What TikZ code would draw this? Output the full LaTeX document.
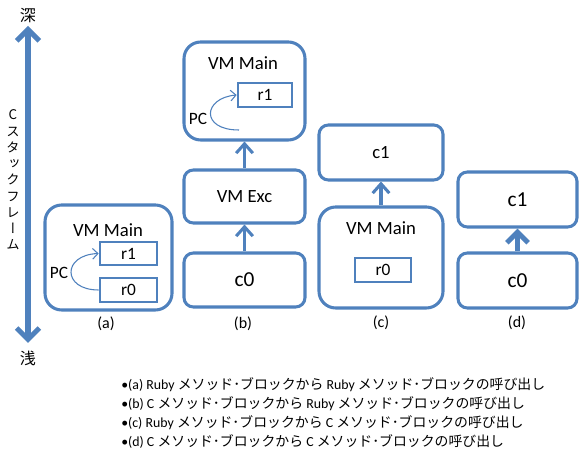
\documentclass[tikz,border=0pt]{standalone}
\usepackage{fontspec}
\setmainfont{Carlito}
\newfontfamily\cjk{Noto Sans CJK JP}
\newfontfamily\cjkvert[RawFeature=+vert]{Noto Sans CJK JP}
\usetikzlibrary{arrows.meta}
\definecolor{frameblue}{HTML}{4F81BD}
\newcommand{\jp}[1]{{\cjk #1}}

\tikzset{
  size/.style 2 args={minimum width=#1*0.75pt, minimum height=#2*0.75pt},
  frame/.style={draw=frameblue, line width=2.3pt, fill=white, inner sep=0pt},
  bigframe/.style={frame, rounded corners=12.5pt},
  smallframe/.style={frame, rounded corners=7pt},
  regbox/.style={draw=frameblue, line width=2pt, fill=white, inner sep=0pt,
    font=\fontsize{13}{15}\selectfont},
  conn/.style={draw=frameblue, line width=2.3pt,
    -{Straight Barb[length=7pt,width=12.5pt]}},
  thickconn/.style={draw=frameblue, line width=3.8pt,
    -{Straight Barb[length=8pt,width=16pt]}},
  depth/.style={draw=frameblue, line width=3.8pt,
    {Straight Barb[length=8.5pt,width=17pt]}-{Straight Barb[length=8.5pt,width=17pt]}},
  pcarrow/.style={draw=frameblue, line width=0.8pt,
    -{Straight Barb[length=4pt,width=8pt]}},
  t14/.style={font=\fontsize{14}{16}\selectfont},
  t16/.style={font=\fontsize{16}{18}\selectfont},
  t13/.style={font=\fontsize{13}{15}\selectfont},
  t12/.style={font=\fontsize{12}{14}\selectfont},
  note/.style={anchor=west, inner sep=0pt, font=\fontsize{10.4}{12}\selectfont},
}

\begin{document}
\begin{tikzpicture}[x=0.75pt, y=-0.75pt]
\useasboundingbox (0,0) rectangle (579,452);

% depth axis of the C stack
\coordinate (deep) at (28,26);
\coordinate (shallow) at (28,343);
\draw[depth] (deep) -- (shallow);
\node[font=\cjk\fontsize{12}{14}\selectfont] (deeplbl) at (28,16) {深};
\node[font=\cjk\fontsize{12}{14}\selectfont] (shallowlbl) at (28,358) {浅};
\node[font=\cjkvert\fontsize{10}{12.2}\selectfont, align=center, inner sep=0pt]
  (axislbl) at (13,180) {C\\ス\\タ\\ッ\\ク\\フ\\レ\\ー\\ム};

% (a) Ruby -> Ruby
\node[bigframe, size={127}{105}] (amain) at (108.5,257.5) {};
\node[t14] (amaint) at (108,230) {VM Main};
\node[regbox, size={57}{23}] (ar1) at (128.5,253.5) {r1};
\node[regbox, size={57}{24}] (ar0) at (128.5,290) {r0};
\node[t13] (apc) at (59,273) {PC};
\draw[pcarrow] (ar0.west) .. controls (62,290) and (62,255) .. (ar1.west);
\node[t12] (alab) at (106,324) {(a)};

% (b) C -> Ruby
\node[bigframe, size={121}{98}] (bmain) at (244.5,91) {};
\node[t14] (bmaint) at (243,63) {VM Main};
\node[regbox, size={54}{24}] (br1) at (265,95) {r1};
\node[t13] (bpc) at (198,119) {PC};
\coordinate (bpcstart) at (239,130);
\draw[pcarrow] (bpcstart) .. controls (200,130) and (203,98) .. (br1.west);
\node[smallframe, t14, size={121}{53}] (bexc) at (244.5,196.5) {VM Exc};
\node[smallframe, t16, size={121}{54}] (bc0) at (244.5,280) {c0};
\draw[conn] (bc0.north) -- (bexc.south);
\draw[conn] (bexc.north) -- (bmain.south);
\node[t12] (blab) at (243,324) {(b)};

% (c) Ruby -> C
\node[smallframe, t14, size={124}{55}] (cc1) at (381,152.5) {c1};
\node[bigframe, size={124}{101}] (cmain) at (381,257.5) {};
\node[t14] (cmaint) at (381,228) {VM Main};
\node[regbox, size={56}{24}] (cr0) at (383,270) {r0};
\draw[conn] (cmain.north) -- (cc1.south);
\node[t12] (clab) at (381,323) {(c)};

% (d) C -> C
\node[smallframe, t16, size={119}{55}] (dc1) at (517.5,199.5) {c1};
\node[smallframe, t16, size={119}{55}] (dc0) at (517.5,280.5) {c0};
\draw[thickconn] (dc0.north) -- (dc1.south);
\node[t12] (dlab) at (517,323) {(d)};

% legend
\node[note] (na) at (121,385) {•(a) Ruby \jp{メソッド･ブロックから} Ruby \jp{メソッド･ブロックの呼び出し}};
\node[note] (nb) at (121,404) {•(b) C \jp{メソッド･ブロックから} Ruby \jp{メソッド･ブロックの呼び出し}};
\node[note] (nc) at (121,423) {•(c) Ruby \jp{メソッド･ブロックから} C \jp{メソッド･ブロックの呼び出し}};
\node[note] (nd) at (121,442) {•(d) C \jp{メソッド･ブロックから} C \jp{メソッド･ブロックの呼び出し}};
\end{tikzpicture}
\end{document}
